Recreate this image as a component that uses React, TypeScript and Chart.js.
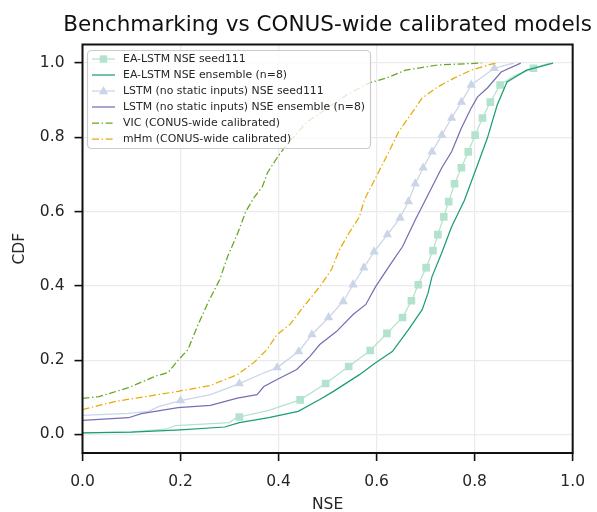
import React, { useEffect, useRef } from "react";
import { Chart, registerables } from "chart.js";

Chart.register(...registerables);

const FONT = "'DejaVu Sans', 'Liberation Sans', sans-serif";

// ---------- tick labels ----------
const xTickValues = [0, 0.2, 0.4, 0.6, 0.8, 1.0];
const yTickValues = [0, 0.2, 0.4, 0.6, 0.8, 1.0];

// ---------- series labels ----------
const seriesLabels = [
  "EA-LSTM NSE seed111",
  "EA-LSTM NSE ensemble (n=8)",
  "LSTM (no static inputs) NSE seed111",
  "LSTM (no static inputs) NSE ensemble (n=8)",
  "VIC (CONUS-wide calibrated)",
  "mHm (CONUS-wide calibrated)",
];

// ---------- EA-LSTM seed111 (markers + extra line points) ----------
const eaSeedMarkNse = [0.32, 0.444, 0.496, 0.543, 0.587, 0.621, 0.653, 0.671, 0.685, 0.701, 0.715, 0.725, 0.737, 0.747, 0.759, 0.773, 0.787, 0.801, 0.816, 0.832, 0.852, 0.92];
const eaSeedMarkCdf = [0.047, 0.093, 0.137, 0.183, 0.226, 0.272, 0.315, 0.36, 0.403, 0.449, 0.495, 0.538, 0.586, 0.627, 0.675, 0.718, 0.761, 0.806, 0.852, 0.895, 0.941, 0.986];
const eaSeedLineNse = [0, 0.1, 0.17, 0.19, 0.3, 0.31, 0.38, 0.47, 0.88, 0.953];
const eaSeedLineCdf = [0.004, 0.007, 0.014, 0.024, 0.032, 0.042, 0.065, 0.115, 0.965, 1.0];

// ---------- EA-LSTM ensemble ----------
const eaEnsNse = [0, 0.1, 0.2, 0.29, 0.32, 0.38, 0.44, 0.484, 0.512, 0.565, 0.598, 0.632, 0.665, 0.693, 0.705, 0.713, 0.733, 0.753, 0.779, 0.806, 0.826, 0.846, 0.866, 0.906, 0.96];
const eaEnsCdf = [0.004, 0.006, 0.012, 0.02, 0.032, 0.045, 0.062, 0.094, 0.116, 0.161, 0.193, 0.223, 0.282, 0.336, 0.381, 0.425, 0.489, 0.559, 0.63, 0.726, 0.798, 0.887, 0.949, 0.981, 1.0];

// ---------- LSTM (no static) seed111 ----------
const lstmSeedMarkNse = [0.2, 0.32, 0.397, 0.441, 0.468, 0.502, 0.532, 0.552, 0.574, 0.595, 0.622, 0.648, 0.665, 0.679, 0.695, 0.713, 0.733, 0.753, 0.773, 0.793, 0.84];
const lstmSeedMarkCdf = [0.091, 0.137, 0.18, 0.223, 0.269, 0.315, 0.358, 0.403, 0.449, 0.492, 0.538, 0.583, 0.627, 0.675, 0.718, 0.761, 0.806, 0.852, 0.895, 0.941, 0.986];
const lstmSeedLineNse = [0, 0.094, 0.135, 0.155, 0.261, 0.36, 0.86, 0.88];
const lstmSeedLineCdf = [0.051, 0.057, 0.062, 0.075, 0.107, 0.16, 0.993, 1.0];

// ---------- LSTM (no static) ensemble ----------
const lstmEnsNse = [0, 0.094, 0.12, 0.195, 0.261, 0.316, 0.356, 0.37, 0.397, 0.437, 0.464, 0.484, 0.518, 0.552, 0.578, 0.598, 0.625, 0.653, 0.679, 0.699, 0.733, 0.753, 0.773, 0.793, 0.806, 0.826, 0.854, 0.894];
const lstmEnsCdf = [0.038, 0.045, 0.056, 0.072, 0.078, 0.098, 0.107, 0.129, 0.148, 0.175, 0.21, 0.242, 0.277, 0.323, 0.35, 0.398, 0.452, 0.506, 0.578, 0.63, 0.718, 0.761, 0.825, 0.879, 0.909, 0.933, 0.976, 1.0];

// ---------- VIC ----------
const vicNse = [0, 0.034, 0.094, 0.149, 0.175, 0.195, 0.215, 0.229, 0.236, 0.256, 0.28, 0.296, 0.317, 0.333, 0.351, 0.367, 0.377, 0.397, 0.413, 0.456, 0.503, 0.54, 0.584, 0.625, 0.659, 0.725, 0.814];
const vicCdf = [0.097, 0.102, 0.126, 0.157, 0.167, 0.2, 0.228, 0.274, 0.296, 0.355, 0.417, 0.479, 0.543, 0.6, 0.64, 0.667, 0.704, 0.745, 0.774, 0.839, 0.882, 0.915, 0.946, 0.962, 0.981, 0.995, 1.0];

// ---------- mHm ----------
const mhmNse = [0, 0.034, 0.068, 0.129, 0.195, 0.261, 0.316, 0.35, 0.376, 0.397, 0.423, 0.451, 0.484, 0.508, 0.524, 0.544, 0.565, 0.575, 0.598, 0.625, 0.645, 0.673, 0.693, 0.725, 0.759, 0.793, 0.834, 0.846];
const mhmCdf = [0.067, 0.078, 0.089, 0.102, 0.116, 0.132, 0.161, 0.194, 0.228, 0.269, 0.296, 0.344, 0.398, 0.444, 0.497, 0.543, 0.586, 0.632, 0.691, 0.761, 0.815, 0.868, 0.906, 0.936, 0.96, 0.981, 0.997, 1.0];

// ---------- styles ----------
const COLORS = ["#b3e2cd", "#1b9e77", "#cbd5e8", "#7570b3", "#66a61e", "#e6ab02"];
const DASHDOT = [7, 2.6, 1.4, 2.6];
const DASHES = [[], [], [], [], DASHDOT, DASHDOT];
const MARKERS: (string | null)[] = ["rect", null, "triangle", null, null, null];
const LINE_W = 1.25;

function pts(xs: number[], ys: number[]) {
  return xs.map((x, i) => ({ x, y: ys[i] }));
}
function merged(ax: number[], ay: number[], bx: number[], by: number[]) {
  return [...pts(ax, ay), ...pts(bx, by)].sort((p, q) => p.y - q.y || p.x - q.x);
}

const decorPlugin = {
  id: "decor",
  afterDatasetsDraw(chart: any) {
    const ctx = chart.ctx as CanvasRenderingContext2D;
    ctx.save();
    // legend box
    const bx = 87.5, by = 50.5, bw = 283, bh = 98;
    ctx.beginPath();
    (ctx as any).roundRect(bx, by, bw, bh, 4);
    ctx.fillStyle = "rgba(255,255,255,0.8)";
    ctx.fill();
    ctx.strokeStyle = "#cccccc";
    ctx.lineWidth = 1.2;
    ctx.stroke();
    seriesLabels.forEach((label, i) => {
      const cy = 59 + i * 16;
      ctx.strokeStyle = COLORS[i];
      ctx.lineWidth = LINE_W;
      ctx.setLineDash(DASHES[i]);
      ctx.beginPath();
      ctx.moveTo(92, cy);
      ctx.lineTo(115, cy);
      ctx.stroke();
      ctx.setLineDash([]);
      const mx = 103.5;
      if (MARKERS[i] === "rect") {
        ctx.fillStyle = COLORS[i];
        ctx.fillRect(mx - 3.7, cy - 3.7, 7.4, 7.4);
      } else if (MARKERS[i] === "triangle") {
        ctx.fillStyle = COLORS[i];
        ctx.beginPath();
        ctx.moveTo(mx, cy - 5);
        ctx.lineTo(mx + 4.6, cy + 3.2);
        ctx.lineTo(mx - 4.6, cy + 3.2);
        ctx.closePath();
        ctx.fill();
      }
      ctx.fillStyle = "#262626";
      ctx.font = `10.9px ${FONT}`;
      ctx.textBaseline = "middle";
      ctx.textAlign = "left";
      ctx.fillText(label, 123, cy + 0.5);
    });
    ctx.restore();
  },
  afterDraw(chart: any) {
    const ctx = chart.ctx as CanvasRenderingContext2D;
    const a = chart.chartArea;
    ctx.save();
    // frame
    ctx.strokeStyle = "#111";
    ctx.lineWidth = 2;
    ctx.strokeRect(a.left, a.top, a.right - a.left, a.bottom - a.top);
    // title
    ctx.fillStyle = "#111";
    ctx.font = `21.5px ${FONT}`;
    ctx.textAlign = "center";
    ctx.textBaseline = "alphabetic";
    ctx.fillText("Benchmarking vs CONUS-wide calibrated models", (a.left + a.right) / 2, 31);
    // axis titles
    ctx.fillStyle = "#262626";
    ctx.font = `15.5px ${FONT}`;
    ctx.fillText("NSE", (a.left + a.right) / 2, 509);
    ctx.translate(24, (a.top + a.bottom) / 2);
    ctx.rotate(-Math.PI / 2);
    ctx.fillText("CDF", 0, 0);
    ctx.restore();
  },
};

export default function App() {
  const ref = useRef<HTMLCanvasElement | null>(null);

  useEffect(() => {
    if (!ref.current) return;
    const lineDs = (i: number, data: any[], order: number) => ({
      label: seriesLabels[i],
      data,
      showLine: true,
      borderColor: COLORS[i],
      backgroundColor: COLORS[i],
      borderWidth: LINE_W,
      borderDash: DASHES[i],
      pointRadius: 0,
      pointHoverRadius: 0,
      tension: 0,
      order,
    });
    const markDs = (i: number, data: any[], order: number) => ({
      label: seriesLabels[i] + " markers",
      data,
      showLine: false,
      pointStyle: MARKERS[i],
      pointRadius: 5.4,
      pointBorderWidth: 0,
      pointBackgroundColor: COLORS[i],
      pointBorderColor: COLORS[i],
      order,
    });

    const tickFont = { family: FONT, size: 15.5 };
    const chart = new Chart(ref.current, {
      type: "scatter",
      data: {
        datasets: [
          lineDs(0, merged(eaSeedMarkNse, eaSeedMarkCdf, eaSeedLineNse, eaSeedLineCdf), 11),
          markDs(0, pts(eaSeedMarkNse, eaSeedMarkCdf), 10),
          lineDs(1, pts(eaEnsNse, eaEnsCdf), 9),
          lineDs(2, merged(lstmSeedMarkNse, lstmSeedMarkCdf, lstmSeedLineNse, lstmSeedLineCdf), 8),
          markDs(2, pts(lstmSeedMarkNse, lstmSeedMarkCdf), 7),
          lineDs(3, pts(lstmEnsNse, lstmEnsCdf), 6),
          lineDs(4, pts(vicNse, vicCdf), 5),
          lineDs(5, pts(mhmNse, mhmCdf), 4),
        ] as any,
      },
      options: {
        animation: false,
        responsive: false,
        devicePixelRatio: 1,
        events: [],
        layout: { padding: { top: 44.5, right: 17, bottom: 0, left: 0 } },
        plugins: {
          legend: { display: false },
          title: { display: false },
          tooltip: { enabled: false },
        },
        scales: {
          x: {
            type: "linear",
            min: 0,
            max: 1,
            afterBuildTicks: (s: any) => {
              s.ticks = xTickValues.map((v) => ({ value: v }));
            },
            afterFit: (s: any) => {
              s.height = 59;
            },
            grid: {
              color: "#ebebeb",
              lineWidth: 1.2,
              tickColor: "#111",
              tickLength: 8,
              tickWidth: 1.6,
            },
            border: { display: false },
            ticks: {
              font: tickFont,
              color: "#262626",
              padding: 12,
              maxRotation: 0,
              autoSkip: false,
              callback: (v: any) => Number(v).toFixed(1),
            },
          },
          y: {
            type: "linear",
            min: -0.05,
            max: 1.05,
            afterBuildTicks: (s: any) => {
              s.ticks = yTickValues.map((v) => ({ value: v }));
            },
            afterFit: (s: any) => {
              s.width = 82.5;
            },
            grid: {
              color: "#ebebeb",
              lineWidth: 1.2,
              tickColor: "#111",
              tickLength: 8,
              tickWidth: 1.6,
            },
            border: { display: false },
            ticks: {
              font: tickFont,
              color: "#262626",
              padding: 10,
              autoSkip: false,
              callback: (v: any) => Number(v).toFixed(1),
            },
          },
        },
      },
      plugins: [decorPlugin],
    } as any);
    return () => chart.destroy();
  }, []);

  return (
    <div style={{ position: "absolute", left: 0, top: 0, width: 597, height: 512, background: "#fff" }}>
      <canvas ref={ref} width={597} height={512} style={{ display: "block", width: 597, height: 512 }} />
    </div>
  );
}
